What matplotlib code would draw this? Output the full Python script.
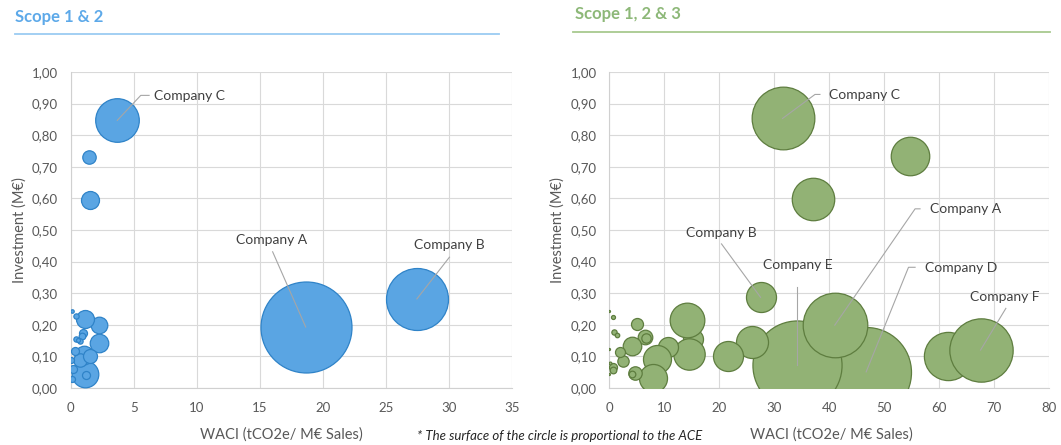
import numpy as np
import matplotlib
matplotlib.use("Agg")
import matplotlib.pyplot as plt
import matplotlib.ticker as ticker

plt.rcParams["font.family"] = ["Lato", "DejaVu Sans"]

# --- Scope 1 & 2 (WACI, investment, ACE) ---
s12_waci = [18.63, 27.44, 3.70, 1.48, 1.53, 1.18, 1.24, 2.29, 2.29, 1.15,
            0.40, 0.13, 0.95, 0.90, 0.75, 0.40, 0.58, 1.10, 0.76, 0.32,
            0.18, 0.10, 1.50, 0.05]
s12_inv = [0.193, 0.282, 0.847, 0.730, 0.595, 0.043, 0.041, 0.143, 0.200, 0.218,
           0.229, 0.243, 0.175, 0.164, 0.150, 0.154, 0.152, 0.106, 0.088, 0.117,
           0.059, 0.030, 0.100, 0.090]
s12_ace = [207, 96, 47.5, 4.5, 8.1, 17.7, 1.6, 8.6, 6.9, 8.1,
           0.7, 0.3, 1.6, 1.1, 0.7, 0.7, 0.4, 8.6, 4.5, 1.6,
           1.6, 0.9, 4.9, 0.9]
s12_labels = {0: "Company A", 1: "Company B", 2: "Company C"}

# --- Scope 1, 2 & 3 ---
s123_waci = [31.5, 54.7, 37.1, 46.7, 34.2, 41.0, 61.5, 67.5, 27.5, 26.0,
             21.6, 15.3, 14.06, 14.4, 10.7, 8.7, 8.0, 5.0, 6.5, 6.6,
             4.06, 2.55, 1.94, 4.67, 4.2, 0.74, 0.0, 0.86, 1.48, 0.74,
             0.62, 0.0, 0.0, 0.1]
s123_inv = [0.853, 0.734, 0.599, 0.051, 0.073, 0.199, 0.102, 0.120, 0.287, 0.145,
            0.101, 0.156, 0.216, 0.108, 0.129, 0.091, 0.033, 0.203, 0.161, 0.158,
            0.132, 0.087, 0.114, 0.047, 0.043, 0.226, 0.243, 0.177, 0.168, 0.068,
            0.058, 0.124, 0.045, 0.080]
s123_ace = [98, 37, 45, 202, 198, 104, 58, 100, 22.5, 25.6,
            22.5, 10, 30, 24.6, 10, 19.6, 19.6, 3.6, 5.3, 2.2,
            8.6, 3.2, 2.5, 4.5, 1.1, 0.4, 0.1, 0.7, 0.5, 1.6,
            1.1, 0.1, 0.1, 0.2]
s123_labels = {0: "Company C", 3: "Company D", 4: "Company E", 5: "Company A",
               7: "Company F", 8: "Company B"}

W, H = 1061, 445
fig = plt.figure(figsize=(W / 100, H / 100), dpi=100)


def px_axes(x0, x1, y0, y1):
    return fig.add_axes([x0 / W, 1 - y1 / H, (x1 - x0) / W, (y1 - y0) / H])


def bubble_chart(ax, xs, ys, ace, rmax, xmax, xstep, face, edge):
    ace = np.asarray(ace, dtype=float)
    r_px = rmax * np.sqrt(ace / ace.max())
    sizes = (2 * r_px * 0.72) ** 2
    for i in range(len(xs)):
        ax.scatter(xs[i], ys[i], s=sizes[i], color=face, edgecolor=edge,
                   linewidth=0.9, zorder=3 + i * 0.01)
    ax.set_xlim(0, xmax)
    ax.set_ylim(0, 1)
    ax.set_xticks(np.arange(0, xmax + 1, xstep))
    ax.set_yticks(np.arange(0, 1.01, 0.1))
    ax.yaxis.set_major_formatter(
        ticker.FuncFormatter(lambda v, _: f"{v:.2f}".replace(".", ",")))
    ax.grid(True, color="#D9D9D9", lw=0.8, zorder=0)
    ax.set_axisbelow(True)
    for side in ["top", "right"]:
        ax.spines[side].set_visible(False)
    for side in ["left", "bottom"]:
        ax.spines[side].set_color("#D0D0D0")
        ax.spines[side].set_linewidth(0.8)
    ax.tick_params(length=0, labelsize=9.5, labelcolor="#595959")
    ax.tick_params(axis="x", pad=10)
    ax.tick_params(axis="y", pad=9)
    ax.set_ylabel("Investment (M€)", fontsize=10.5, color="#595959", labelpad=4)


def leader(ax, pts, text, tx, ty, ha):
    px, py = zip(*pts)
    ax.plot(px, py, color="#A6A6A6", lw=0.8, zorder=20, clip_on=False)
    ax.text(tx, ty, text, ha=ha, va="center", fontsize=10, color="#404040",
            zorder=21)


# left chart
ax1 = px_axes(70.6, 512.3, 72, 388)
bubble_chart(ax1, s12_waci, s12_inv, s12_ace, 45.5, 35, 5, "#5AA5E3", "#2F83C8")
leader(ax1, [(s12_waci[0], s12_inv[0]), (16.01, 0.431)], s12_labels[0], 15.96, 0.468, "center")
leader(ax1, [(s12_waci[1], s12_inv[1]), (30.02, 0.414)], s12_labels[1], 30.05, 0.453, "center")
leader(ax1, [(s12_waci[2], s12_inv[2]), (5.56, 0.926), (6.22, 0.926)], s12_labels[2], 6.59, 0.924, "left")

# right chart
ax2 = px_axes(609.3, 1049.3, 72, 388)
bubble_chart(ax2, s123_waci, s123_inv, s123_ace, 45, 80, 10, "#92B275", "#5E7D3F")
leader(ax2, [(s123_waci[0], s123_inv[0]), (37.4, 0.929), (38.3, 0.929)], s123_labels[0], 40.0, 0.927, "left")
leader(ax2, [(s123_waci[5], s123_inv[5]), (55.6, 0.567), (56.5, 0.567)], s123_labels[5], 58.3, 0.566, "left")
leader(ax2, [(s123_waci[8], s123_inv[8]), (20.4, 0.456)], s123_labels[8], 20.4, 0.491, "center")
leader(ax2, [(s123_waci[4], s123_inv[4]), (34.2, 0.32)], s123_labels[4], 34.2, 0.389, "center")
leader(ax2, [(s123_waci[3], s123_inv[3]), (54.4, 0.382), (55.6, 0.382)], s123_labels[3], 57.4, 0.380, "left")
leader(ax2, [(s123_waci[7], s123_inv[7]), (72.1, 0.252)], s123_labels[7], 71.9, 0.289, "center")

# titles and rules
fig.text(15 / W, 1 - 17 / H, "Scope 1 & 2", fontsize=12, fontweight="bold",
         color="#5DA9E9", va="center", ha="left")
fig.add_artist(plt.Line2D([15 / W, 499 / W], [1 - 34 / H] * 2, color="#9BCBF2", lw=1.3))
fig.text(575 / W, 1 - 14 / H, "Scope 1, 2 & 3", fontsize=12, fontweight="bold",
         color="#8DB878", va="center", ha="left")
fig.add_artist(plt.Line2D([573 / W, 1050 / W], [1 - 32 / H] * 2, color="#A8C98F", lw=1.3))

# x labels and footnote
fig.text(281 / W, 1 - 435 / H, "WACI (tCO2e/ M€ Sales)", fontsize=10.5,
         color="#595959", ha="center", va="center")
fig.text(831 / W, 1 - 435 / H, "WACI (tCO2e/ M€ Sales)", fontsize=10.5,
         color="#595959", ha="center", va="center")
fig.text(560 / W, 1 - 436 / H, "* The surface of the circle is proportional to the ACE",
         fontsize=9.5, style="italic", color="#262626", ha="center", va="center")

fig.savefig("out.png", dpi=100)
